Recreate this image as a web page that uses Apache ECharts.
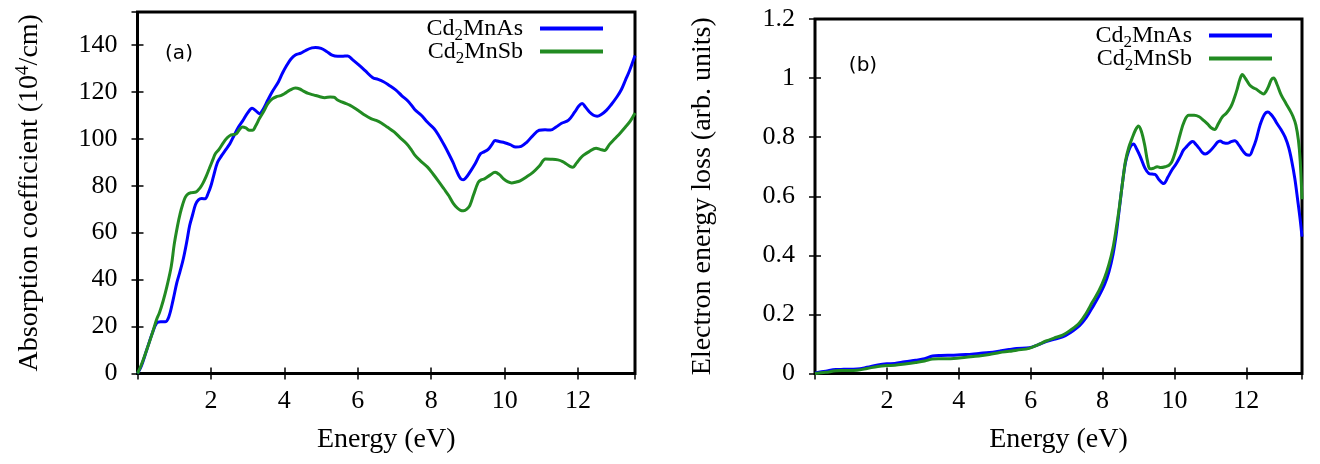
<!DOCTYPE html>
<html>
<head>
<meta charset="utf-8">
<script src="https://cdn.jsdelivr.net/npm/echarts@6/dist/echarts.min.js"></script>
<style>
html,body{margin:0;padding:0;background:#fff;}
#chart{width:1320px;height:464px;}
</style>
</head>
<body>
<div id="chart"></div>
<script>
// ---------- DATA ----------
const seriesNames = ['Cd2MnAs', 'Cd2MnSb'];
const xTitle = 'Energy (eV)';

// Panel (a): absorption coefficient (10^4/cm)
const absE_As = [0,0.1,0.25,0.4,0.52,0.63,0.75,0.85,0.97,1.07,1.15,1.25,1.34,1.42,1.49,1.58,1.66,1.75,1.84,1.93,2.0,2.07,2.18,2.3,2.41,2.52,2.63,2.75,2.86,3.0,3.12,3.22,3.32,3.42,3.55,3.67,3.84,3.95,4.07,4.18,4.3,4.45,4.6,4.75,4.85,5.0,5.15,5.3,5.45,5.6,5.73,5.85,6.01,6.2,6.41,6.55,6.7,6.85,7.04,7.2,7.39,7.55,7.73,7.9,8.08,8.2,8.36,8.48,8.59,8.7,8.8,8.87,8.95,9.05,9.2,9.34,9.45,9.55,9.65,9.74,9.85,10.0,10.15,10.3,10.45,10.6,10.75,10.94,11.1,11.25,11.4,11.55,11.74,11.91,12.02,12.11,12.2,12.31,12.42,12.52,12.62,12.77,12.9,13.06,13.18,13.29,13.4,13.55];
const absV_As = [0,3,10,17,21.5,22,22,24,31.4,38.6,43,49,56,63,67,72,74,74.5,74.4,77,80,84,90,93,95.5,98,101.4,105,107.5,111,113,112,110.7,112.5,116.5,120,124.3,128,131.4,134,135.7,136.5,137.8,138.7,138.9,138.5,137.2,135.6,135.1,135.2,135.3,133.8,131.7,129,126,125.3,124.3,122.8,120.7,118.3,115.7,112.5,110,107,104.3,101.5,97.1,93.5,90,86,83,82.5,83.5,85.7,89.5,93.6,94.5,95.5,97.5,99.3,98.8,98.3,97.5,96.5,96.8,98.5,101,103.6,103.8,103.7,105,106.6,107.9,111.4,114,115,113.5,111.4,110,109.6,110.2,112.1,114.5,117.9,121,125,129,135.5];

const absE_Sb = [0,0.1,0.25,0.4,0.52,0.6,0.7,0.8,0.92,1.0,1.09,1.16,1.23,1.3,1.37,1.45,1.6,1.7,1.78,1.87,1.95,2.05,2.12,2.22,2.35,2.45,2.52,2.62,2.69,2.78,2.86,2.95,3.05,3.13,3.22,3.32,3.45,3.55,3.67,3.78,3.9,4.01,4.15,4.3,4.42,4.52,4.65,4.81,4.95,5.1,5.25,5.35,5.45,5.56,5.68,5.78,5.92,6.07,6.2,6.36,6.5,6.64,6.8,6.99,7.15,7.33,7.45,7.56,7.7,7.9,8.05,8.19,8.35,8.48,8.6,8.71,8.8,8.88,8.97,9.05,9.15,9.28,9.36,9.45,9.6,9.74,9.85,9.97,10.08,10.19,10.3,10.42,10.6,10.77,10.95,11.11,11.25,11.45,11.58,11.68,11.78,11.86,11.95,12.05,12.14,12.3,12.49,12.6,12.72,12.85,13.0,13.15,13.29,13.42,13.55];
const absV_Sb = [0,3.5,10,17,23,26,31,37,45.7,55,62.9,68,72,75,76.4,77,77.4,79,81,84,87.1,91,93.6,95.5,98.6,100.5,101.4,101.8,102.1,104,105,104.6,103.6,103.6,105.5,108.6,112,115,117,117.9,118.4,119.3,120.7,121.6,121.2,120.3,119.3,118.6,118,117.5,117.8,117.7,116.5,115.7,115,114.3,113,111.4,110,108.6,107.8,106.7,105,102.9,100.5,97.9,95.5,92.9,90.7,87.9,85,82.1,78.6,75.7,72.5,70.5,69.5,69.3,70,71.5,76,81.4,82.5,82.9,84.5,85.7,84.8,82.9,81.7,81.2,81.5,82.1,83.8,85.7,88.5,91.4,91.3,91,90.3,89.3,88.2,87.9,89.5,91.5,92.9,94.5,96,95.5,95,97.5,100,102.5,105,107.5,111];

// Panel (b): electron energy loss (arb. units)
const eelsE_As = [0,0.3,0.58,0.8,1.17,1.45,1.75,2.0,2.22,2.5,2.8,3.05,3.27,3.5,3.86,4.2,4.56,4.85,5.14,5.4,5.61,5.96,6.2,6.43,6.65,6.89,7.1,7.36,7.55,7.71,7.9,8.06,8.18,8.29,8.38,8.47,8.56,8.64,8.73,8.8,8.86,8.95,9.05,9.18,9.29,9.38,9.46,9.58,9.7,9.82,9.93,10.05,10.16,10.25,10.34,10.45,10.51,10.6,10.69,10.78,10.86,10.98,11.1,11.2,11.27,11.37,11.47,11.58,11.68,11.8,11.92,12.0,12.09,12.18,12.27,12.38,12.5,12.6,12.68,12.78,12.85,12.97,13.08,13.18,13.26,13.35,13.43,13.5,13.55];
const eelsV_As = [0.002,0.008,0.0135,0.014,0.015,0.021,0.029,0.033,0.034,0.04,0.045,0.05,0.059,0.061,0.062,0.064,0.068,0.071,0.076,0.081,0.085,0.087,0.097,0.108,0.116,0.124,0.138,0.162,0.19,0.222,0.262,0.302,0.345,0.402,0.47,0.56,0.65,0.715,0.755,0.772,0.777,0.76,0.734,0.695,0.677,0.675,0.674,0.655,0.643,0.665,0.689,0.71,0.734,0.756,0.768,0.782,0.785,0.775,0.762,0.748,0.743,0.752,0.768,0.783,0.787,0.781,0.779,0.785,0.788,0.772,0.751,0.741,0.739,0.76,0.79,0.84,0.876,0.885,0.878,0.862,0.847,0.825,0.8,0.765,0.722,0.66,0.587,0.52,0.463];

const eelsE_Sb = [0,0.3,0.58,0.8,1.17,1.45,1.75,2.0,2.22,2.5,2.8,3.05,3.27,3.5,3.86,4.2,4.56,4.85,5.14,5.4,5.61,5.96,6.2,6.43,6.65,6.89,7.1,7.36,7.55,7.71,7.9,8.06,8.18,8.29,8.38,8.47,8.56,8.64,8.73,8.82,8.92,9.0,9.08,9.17,9.25,9.32,9.42,9.52,9.62,9.75,9.85,9.93,10.05,10.16,10.28,10.4,10.55,10.69,10.8,10.92,11.02,11.12,11.22,11.33,11.45,11.57,11.66,11.74,11.82,11.89,11.97,12.09,12.18,12.27,12.38,12.48,12.55,12.62,12.7,12.76,12.85,12.97,13.1,13.21,13.3,13.38,13.45,13.5,13.55];
const eelsV_Sb = [0,0.004,0.009,0.01,0.011,0.017,0.024,0.027,0.028,0.032,0.037,0.042,0.049,0.05,0.051,0.055,0.059,0.064,0.071,0.075,0.079,0.085,0.097,0.11,0.12,0.13,0.146,0.172,0.205,0.24,0.28,0.325,0.37,0.425,0.49,0.565,0.65,0.72,0.765,0.795,0.825,0.838,0.82,0.775,0.72,0.693,0.695,0.7,0.697,0.7,0.705,0.717,0.76,0.81,0.855,0.874,0.874,0.869,0.858,0.845,0.832,0.826,0.845,0.868,0.882,0.903,0.93,0.96,0.995,1.012,1.0,0.977,0.968,0.963,0.953,0.946,0.955,0.972,0.995,1.0,0.98,0.943,0.915,0.892,0.87,0.841,0.79,0.72,0.59];

// ---------- CHART ----------
const zip = (xs, ys) => xs.map((x, i) => [x, ys[i]]);
const SERIF = 'Liberation Serif';
const colors = ['#0000ff', '#228b22'];

const grids = [
  {left: 137.5, top: 12, width: 497.5, height: 361.5},
  {left: 815, top: 19, width: 487, height: 354.5}
].map(g => Object.assign({show: true, borderColor: '#000', borderWidth: 3, backgroundColor: 'transparent'}, g));

function xAx(gi, top) {
  return {
    gridIndex: gi, type: 'value', min: 0, max: 13.55, interval: 2,
    position: top ? 'top' : 'bottom',
    axisLine: {show: false},
    axisTick: {show: true, inside: true, length: 6, lineStyle: {color: '#000', width: 1.5}},
    splitLine: {show: false},
    axisLabel: {show: !top, showMinLabel: false, showMaxLabel: false, margin: 15,
      color: '#000', fontFamily: SERIF, fontSize: 26},
    name: top ? '' : xTitle, nameLocation: 'middle', nameGap: 52,
    nameTextStyle: {color: '#000', fontFamily: SERIF, fontSize: 28}
  };
}
function yAx(gi, right, max, interval, name, gap, showMax) {
  return {
    gridIndex: gi, type: 'value', min: 0, max: max, interval: interval,
    position: right ? 'right' : 'left',
    axisLine: {show: false},
    axisTick: {show: true, inside: true, length: 6, lineStyle: {color: '#000', width: 1.5}},
    splitLine: {show: false},
    axisLabel: {show: !right, showMaxLabel: showMax, margin: 20,
      color: '#000', fontFamily: SERIF, fontSize: 26},
    name: right ? '' : name, nameLocation: 'middle', nameGap: gap,
    nameTextStyle: {color: '#000', fontFamily: SERIF, fontSize: 28,
      rich: {
        t: {fontFamily: SERIF, fontSize: 28, color: '#000', lineHeight: 32},
        sup: {fontFamily: SERIF, fontSize: 19, color: '#000', verticalAlign: 'top', lineHeight: 32, padding: [0, 0, 12, 0]}
      }}
  };
}

function legendCfg(right, top) {
  return {
    orient: 'vertical', right: right, top: top, align: 'right', padding: 0,
    icon: 'rect', itemWidth: 63, itemHeight: 4, itemGap: -8,
    data: seriesNames,
    formatter: n => '{t|Cd}{s|2}{t|' + n.slice(3) + '}{g|}',
    textStyle: {
      color: '#000', fontFamily: SERIF, fontSize: 24,
      rich: {
        t: {fontFamily: SERIF, fontSize: 24, color: '#000', lineHeight: 24},
        s: {fontFamily: SERIF, fontSize: 17, color: '#000', lineHeight: 17, padding: [14, 0, 0, 0]},
        g: {width: 12}
      }
    }
  };
}

function line(name, data, xi, yi, ci) {
  return {
    name: name, type: 'line', xAxisIndex: xi, yAxisIndex: yi, data: data,
    showSymbol: false, symbol: 'none', smooth: 0.35, animation: false,
    lineStyle: {color: colors[ci], width: 3}, itemStyle: {color: colors[ci]}
  };
}

const option = {
  animation: false,
  backgroundColor: '#fff',
  grid: grids,
  xAxis: [xAx(0, false), xAx(0, true), xAx(1, false), xAx(1, true)],
  yAxis: [
    yAx(0, false, 154, 20, '{t|Absorption coefficient (10}{sup|4}{t|/cm)}', 92, false),
    yAx(0, true, 154, 20, '', 0, false),
    yAx(1, false, 1.2, 0.2, '{t|Electron energy loss (arb. units)}', 96, true),
    yAx(1, true, 1.2, 0.2, '', 0, true)
  ],
  legend: [legendCfg(717, 13), legendCfg(48, 20)],
  series: [
    line(seriesNames[0], zip(absE_As, absV_As), 0, 0, 0),
    line(seriesNames[1], zip(absE_Sb, absV_Sb), 0, 0, 1),
    line(seriesNames[0], zip(eelsE_As, eelsV_As), 2, 2, 0),
    line(seriesNames[1], zip(eelsE_Sb, eelsV_Sb), 2, 2, 1)
  ],
  graphic: [
    {type: 'text', x: 179, y: 54, style: {text: '(a)', font: '20px "DejaVu Sans"', fill: '#000', textAlign: 'center', textVerticalAlign: 'middle'}},
    {type: 'text', x: 863, y: 66, style: {text: '(b)', font: '20px "DejaVu Sans"', fill: '#000', textAlign: 'center', textVerticalAlign: 'middle'}}
  ]
};

const chart = echarts.init(document.getElementById('chart'), null, {renderer: 'canvas'});
chart.setOption(option);
</script>
</body>
</html>
